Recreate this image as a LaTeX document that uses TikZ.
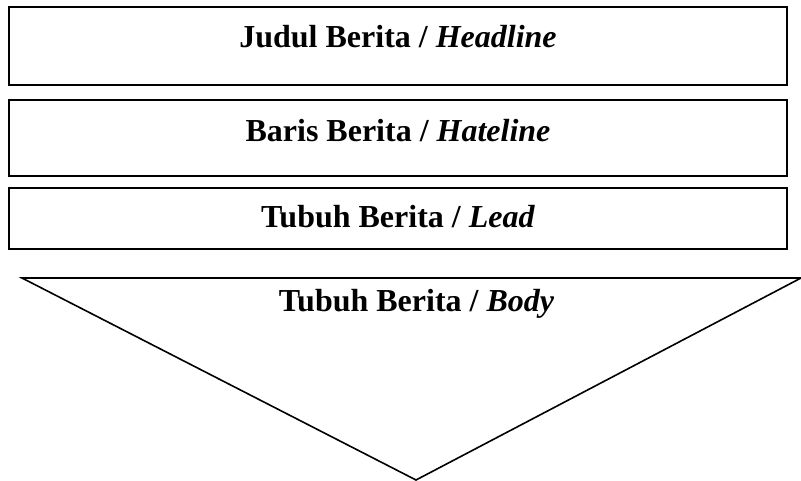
\documentclass[tikz,border=0pt]{standalone}
\usepackage{fontspec}
\setmainfont{Liberation Serif}
\begin{document}
\begin{tikzpicture}[x=1pt,y=-1pt,
  frame/.style={draw=black,line width=2pt},
  lbl/.style={font=\fontsize{32}{36}\selectfont\bfseries,inner sep=0pt}]
\useasboundingbox (0,0) rectangle (801,481);
\draw[frame] (9,7) rectangle (787,85);
\draw[frame] (9,100) rectangle (787,176);
\draw[frame] (9,188.5) rectangle (787,249);
\coordinate (tl) at (22,278);
\coordinate (tr) at (801,278);
\coordinate (bt) at (416,480);
\draw[black,line width=1.6pt,line join=miter] (tl) -- (tr) -- (bt) -- cycle;
\node[lbl,anchor=base] (headline) at (398,48) {Judul Berita / \textit{Headline}};
\node[lbl,anchor=base] (hateline) at (398,142) {Baris Berita / \textit{Hateline}};
\node[lbl,anchor=base] (lead) at (398,228) {Tubuh Berita / \textit{Lead}};
\node[lbl,anchor=base] (body) at (416.5,312) {Tubuh Berita / \textit{Body}};
\end{tikzpicture}
\end{document}
